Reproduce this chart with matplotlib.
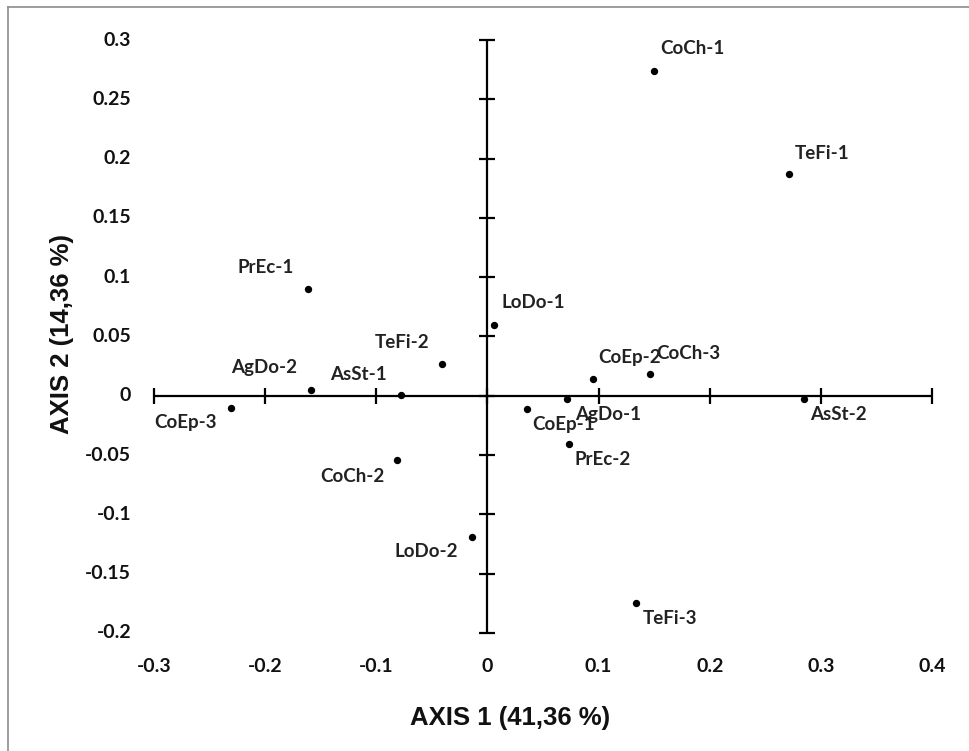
import matplotlib
matplotlib.use("Agg")
import matplotlib.pyplot as plt
from matplotlib.lines import Line2D

# ---- data ----
labels = ["CoCh-1", "TeFi-1", "PrEc-1", "LoDo-1", "TeFi-2", "AgDo-2", "AsSt-1",
          "CoEp-3", "CoCh-2", "CoEp-2", "CoCh-3", "AgDo-1", "CoEp-1", "PrEc-2",
          "AsSt-2", "LoDo-2", "TeFi-3"]
axis1 = [0.150, 0.271, -0.161, 0.006, -0.041, -0.159, -0.078,
         -0.231, -0.081, 0.095, 0.146, 0.072, 0.036, 0.073,
         0.285, -0.014, 0.134]
axis2 = [0.274, 0.187, 0.090, 0.060, 0.027, 0.005, 0.001,
         -0.010, -0.054, 0.014, 0.018, -0.003, -0.011, -0.041,
         -0.003, -0.119, -0.175]
xticks = [-0.3, -0.2, -0.1, 0, 0.1, 0.2, 0.3, 0.4]
xtick_labels = ["-0.3", "-0.2", "-0.1", "0", "0.1", "0.2", "0.3", "0.4"]
yticks = [-0.2, -0.15, -0.1, -0.05, 0, 0.05, 0.1, 0.15, 0.2, 0.25, 0.3]
ytick_labels = ["-0.2", "-0.15", "-0.1", "-0.05", "0", "0.05", "0.1", "0.15", "0.2", "0.25", "0.3"]
xlabel = "AXIS 1 (41,36 %)"
ylabel = "AXIS 2 (14,36 %)"

# label placement (pixel offsets, alignment)
label_offsets = [(6, 22, "left"), (6, 21, "left"), (-15, 22, "right"), (7, 22, "left"),
                 (-12, 21, "right"), (-14, 22, "right"), (-14, 20, "right"),
                 (-14, -15, "right"), (-13, -17, "right"), (5, 22, "left"),
                 (7, 21, "left"), (8, -15, "left"), (5, -16, "left"), (6, -15, "left"),
                 (6, -15, "left"), (-14, -15, "right"), (6, -15, "left")]

LBL_FONT = "Lato"
TITLE_FONT = "Liberation Sans"

fig = plt.figure(figsize=(9.69, 7.51), dpi=100)
ax = fig.add_axes([154 / 969, 1 - 633 / 751, (932 - 154) / 969, (633 - 40) / 751])
ax.set_xlim(-0.3, 0.4)
ax.set_ylim(-0.2, 0.3)

for side in ("top", "right"):
    ax.spines[side].set_visible(False)
ax.spines["left"].set_position(("data", 0))
ax.spines["bottom"].set_position(("data", 0))
for side in ("left", "bottom"):
    ax.spines[side].set_linewidth(1.6)
    ax.spines[side].set_color("black")
    ax.spines[side].set_capstyle("butt")

ax.set_xticks(xticks)
ax.set_yticks(yticks)
ax.tick_params(axis="both", direction="inout", length=11, width=1.6, color="black",
               labelleft=False, labelbottom=False)

# tick labels at the outer edges
for v, t in zip(yticks, ytick_labels):
    ax.annotate(t, xy=(0, v), xycoords=ax.get_yaxis_transform(), xytext=(-23, 0),
                textcoords="offset pixels", ha="right", va="center",
                fontsize=14, fontweight="bold", family=LBL_FONT, color="#111111")
for v, t in zip(xticks, xtick_labels):
    ax.annotate(t, xy=(v, 0), xycoords=ax.get_xaxis_transform(), xytext=(0, -34),
                textcoords="offset pixels", ha="center", va="center",
                fontsize=14, fontweight="bold", family=LBL_FONT, color="#111111")

ax.scatter(axis1, axis2, s=28, color="black", zorder=3, linewidths=0)

for x, y, name, (dx, dy, ha) in zip(axis1, axis2, labels, label_offsets):
    ax.annotate(name, xy=(x, y), xytext=(dx, dy), textcoords="offset pixels",
                ha=ha, va="center", fontsize=13.5, fontweight="bold",
                family=LBL_FONT, color="#222222")

fig.text(510 / 969, 1 - 718 / 751, xlabel, ha="center", va="center",
         fontsize=18.5, fontweight="bold", family=TITLE_FONT, color="#111111")
fig.text(62 / 969, 1 - 334 / 751, ylabel, ha="center", va="center", rotation=90,
         fontsize=18.5, fontweight="bold", family=TITLE_FONT, color="#111111")

# chart frame (top and left edges visible)
fig.add_artist(Line2D([7.5 / 969, 1], [1 - 6.5 / 751] * 2, transform=fig.transFigure,
                      color="#8c8c8c", linewidth=1.2))
fig.add_artist(Line2D([7.5 / 969] * 2, [0, 1 - 6.5 / 751], transform=fig.transFigure,
                      color="#8c8c8c", linewidth=1.2))

fig.savefig("out.png", dpi=100)
